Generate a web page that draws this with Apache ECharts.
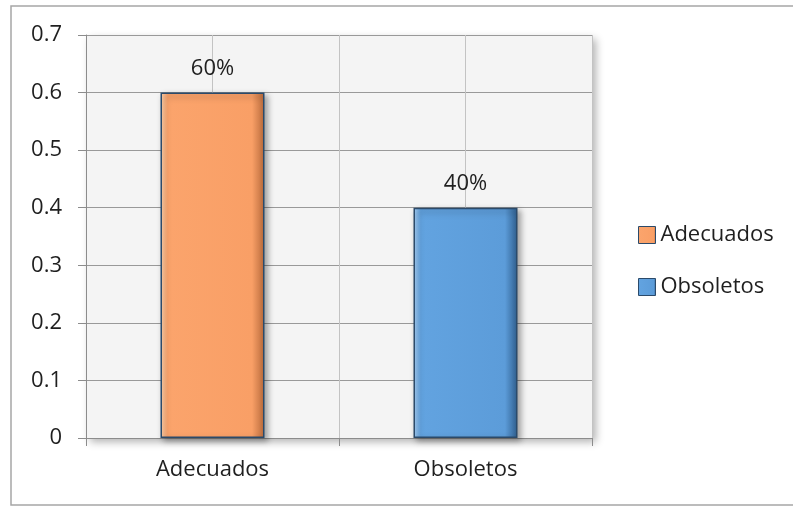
<!DOCTYPE html>
<html>
<head>
<meta charset="utf-8">
<script src="https://cdn.jsdelivr.net/npm/echarts@6/dist/echarts.min.js"></script>
<style>
  html, body { margin: 0; padding: 0; background: #fff; }
  #chart { width: 793px; height: 506px; }
</style>
</head>
<body>
<div id="chart"></div>
<script>
// datos
const categories = ['Adecuados', 'Obsoletos']
const values = [0.6, 0.4]
const yTicks = [0, 0.1, 0.2, 0.3, 0.4, 0.5, 0.6, 0.7]

// colores tipo Excel con bisel
const fills = [
  ['#fdd2ad', '#fba46c', '#f99f66', '#b86a3c'],
  ['#a9d0f5', '#62a3e0', '#5c9cd9', '#2f5f8f']
]

function bevel(c) {
  return new echarts.graphic.LinearGradient(0, 0, 1, 0, [
    { offset: 0, color: c[0] },
    { offset: 0.07, color: c[1] },
    { offset: 0.88, color: c[2] },
    { offset: 1, color: c[3] }
  ])
}

const font = '"Open Sans", "Noto Sans", sans-serif'
const chart = echarts.init(document.getElementById('chart'))

// una serie por categoría para que la leyenda muestre cada barra
const series = categories.map((name, i) => ({
  name: name,
  type: 'bar',
  xAxisIndex: 0,
  yAxisIndex: 0,
  barWidth: 104,
  barGap: '-100%',
  data: values.map((v, j) => (j === i ? v : null)),
  itemStyle: {
    color: bevel(fills[i]),
    borderColor: '#2b4a6a',
    borderWidth: 1.5,
    shadowBlur: 6,
    shadowOffsetX: 3,
    shadowOffsetY: 3,
    shadowColor: 'rgba(0,0,0,0.35)'
  },
  label: {
    show: true,
    position: 'top',
    distance: 13,
    fontFamily: font,
    fontSize: 22,
    color: '#1f1f1f',
    formatter: p => Math.round(p.value * 100) + '%'
  },
  animation: false
}))

chart.setOption({
  backgroundColor: '#fff',
  graphic: [{
    type: 'rect',
    shape: { x: 11, y: 6, width: 800, height: 499 },
    style: { fill: 'none', stroke: '#a6a6a6', lineWidth: 1.5 },
    silent: true
  }],
  grid: {
    left: 86,
    top: 35,
    right: 201,
    bottom: 68,
    show: true,
    backgroundColor: '#f4f4f4',
    borderWidth: 0,
    shadowBlur: 8,
    shadowOffsetX: 4,
    shadowOffsetY: 4,
    shadowColor: 'rgba(0,0,0,0.3)'
  },
  legend: {
    data: categories,
    orient: 'vertical',
    left: 633,
    top: 219,
    itemWidth: 17,
    itemHeight: 17,
    itemGap: 30,
    icon: 'rect',
    textStyle: { fontFamily: font, fontSize: 22, color: '#1f1f1f' },
    itemStyle: { borderColor: '#2b4a6a', borderWidth: 1 }
  },
  xAxis: [
    {
      type: 'category',
      data: categories,
      axisLine: { lineStyle: { color: '#8c8c8c', width: 1 } },
      axisTick: { show: true, length: 8, lineStyle: { color: '#8c8c8c' } },
      axisLabel: { fontFamily: font, fontSize: 22, color: '#1f1f1f', margin: 21 },
      splitLine: { show: false }
    },
    {
      // eje auxiliar solo para las líneas verticales de la cuadrícula
      type: 'value',
      min: 0,
      max: 4,
      interval: 1,
      position: 'bottom',
      axisLine: { show: false },
      axisTick: { show: false },
      axisLabel: { show: false },
      splitLine: { show: true, lineStyle: { color: '#c3c3c3', width: 1 } }
    }
  ],
  yAxis: {
    type: 'value',
    min: yTicks[0],
    max: yTicks[yTicks.length - 1],
    interval: 0.1,
    axisLine: { show: true, lineStyle: { color: '#8c8c8c' } },
    axisTick: { show: true, length: 8, lineStyle: { color: '#8c8c8c' } },
    axisLabel: {
      fontFamily: font,
      fontSize: 22,
      color: '#1f1f1f',
      margin: 24,
      formatter: v => String(Math.round(v * 10) / 10)
    },
    splitLine: { show: true, lineStyle: { color: '#999999', width: 1 } }
  },
  series: series
})
</script>
</body>
</html>
